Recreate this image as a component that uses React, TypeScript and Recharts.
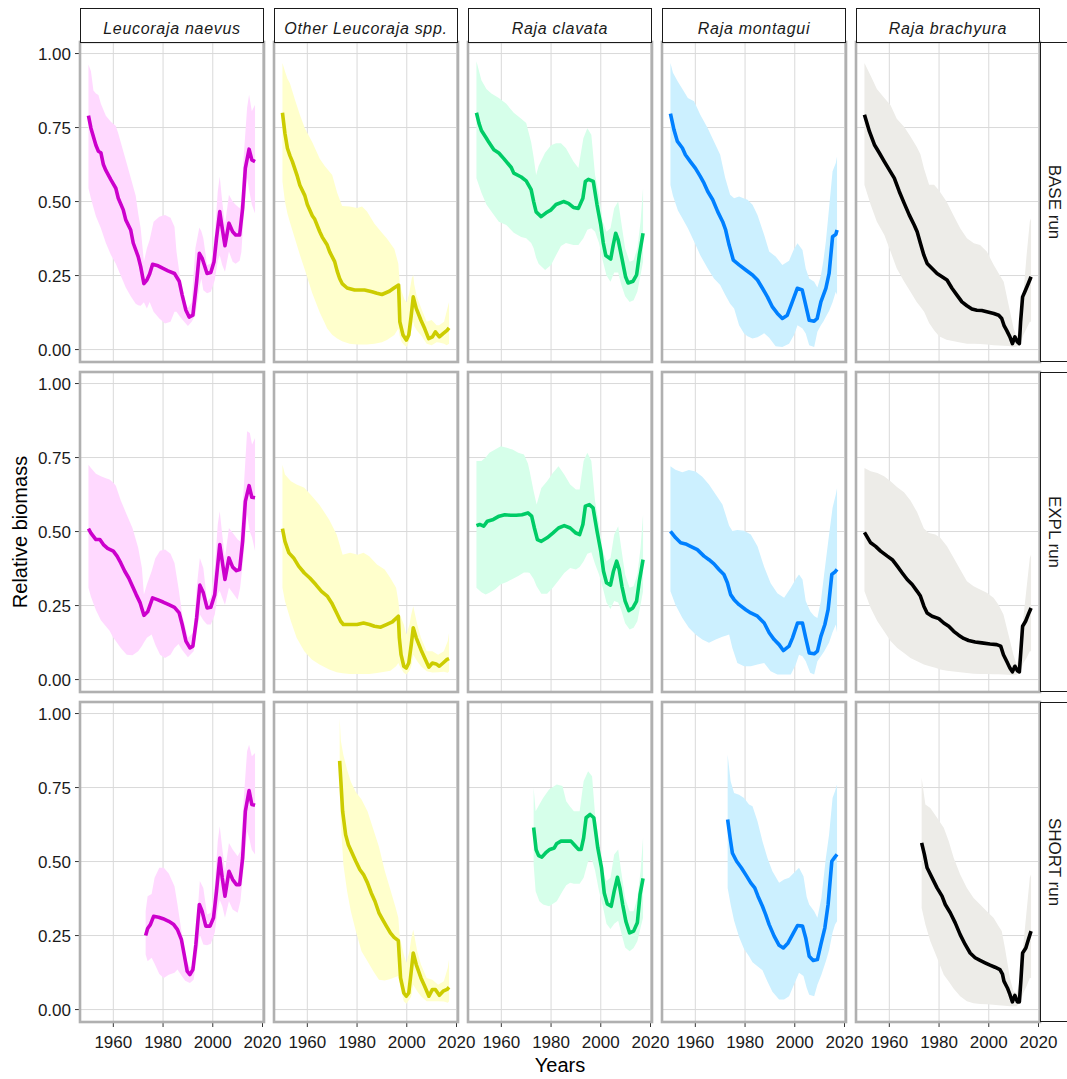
import React from 'react';
import { ComposedChart, Line, Area, XAxis, YAxis, CartesianGrid } from 'recharts';

type Pt = [number, number];
type Band = [number, number, number];

const FONT = '"Liberation Sans", Arial, Helvetica, sans-serif';

const species = ['Leucoraja naevus', 'Other Leucoraja spp.', 'Raja clavata', 'Raja montagui', 'Raja brachyura'];
const runs = ['BASE run', 'EXPL run', 'SHORT run'];
const lineColors = ['#CC00CC', '#CCCC00', '#00CC66', '#0080FF', '#000000'];
const bandColors = ['#FFD9FF', '#FFFFCC', '#D6FFEA', '#CCF0FF', '#EDECE8'];
const xTicks = [1960, 1980, 2000, 2020];
const yTicks = [0, 0.25, 0.5, 0.75, 1];
const xDomain: [number, number] = [1946.6, 2020.6];
const yDomain: [number, number] = [-0.042, 1.039];

// ---------------- BASE run ----------------
const naevusBaseLine: Pt[] = [
  [1950, 0.79], [1951, 0.748], [1953, 0.69], [1954, 0.67], [1955, 0.665], [1956, 0.625], [1957, 0.605],
  [1959, 0.574], [1961, 0.545], [1962, 0.511], [1964, 0.472], [1965, 0.438], [1967, 0.404], [1968, 0.36],
  [1970, 0.314], [1971, 0.28], [1972.3, 0.223], [1973.5, 0.235], [1974.6, 0.255], [1975.8, 0.288], [1978, 0.283],
  [1980, 0.274], [1982, 0.266], [1984.6, 0.257], [1986.5, 0.231], [1987.7, 0.184], [1989.2, 0.133], [1990.5, 0.11],
  [1992, 0.116], [1993.5, 0.229], [1994.6, 0.325], [1995.8, 0.307], [1997.7, 0.257], [1999.2, 0.26], [2000.5, 0.297],
  [2001.5, 0.376], [2002.8, 0.466], [2003.8, 0.41], [2004.9, 0.351], [2006.5, 0.427], [2008, 0.398], [2009.2, 0.387],
  [2010.8, 0.387], [2012, 0.477], [2013.1, 0.613], [2014.6, 0.677], [2015.7, 0.641], [2017, 0.635],
];
const naevusBaseBand: Band[] = [
  [1950, 0.545, 0.963], [1951, 0.51, 0.94], [1952, 0.48, 0.875], [1953, 0.45, 0.865], [1954, 0.43, 0.86],
  [1955, 0.41, 0.83], [1957, 0.36, 0.79], [1959, 0.32, 0.77], [1961, 0.29, 0.755], [1962, 0.27, 0.73],
  [1964, 0.23, 0.67], [1965, 0.21, 0.64], [1967, 0.18, 0.58], [1969, 0.155, 0.52], [1970, 0.15, 0.46],
  [1971, 0.148, 0.41], [1972.3, 0.16, 0.297], [1973.5, 0.139, 0.342], [1974.6, 0.161, 0.37], [1976.2, 0.128, 0.432],
  [1978.5, 0.105, 0.449], [1980.8, 0.088, 0.455], [1983, 0.094, 0.445], [1984.6, 0.128, 0.415], [1985.4, 0.128, 0.331],
  [1986.9, 0.11, 0.24], [1988.5, 0.094, 0.161], [1990, 0.08, 0.14], [1991.5, 0.094, 0.16], [1993, 0.116, 0.342],
  [1994.6, 0.21, 0.412], [1995.4, 0.24, 0.4], [1996.2, 0.2, 0.376], [1997.7, 0.19, 0.286], [1999.2, 0.195, 0.29],
  [2000.8, 0.235, 0.387], [2002, 0.3, 0.534], [2002.8, 0.319, 0.585], [2003.8, 0.286, 0.5], [2004.9, 0.263, 0.421],
  [2006.5, 0.331, 0.523], [2008, 0.297, 0.5], [2009.2, 0.29, 0.489], [2010.8, 0.3, 0.477], [2011.5, 0.33, 0.5],
  [2012.3, 0.432, 0.635], [2013.8, 0.58, 0.816], [2014.6, 0.54, 0.861], [2015.7, 0.49, 0.805], [2017, 0.46, 0.827],
];

const otherBaseLine: Pt[] = [
  [1950, 0.8], [1951, 0.73], [1952, 0.68], [1953, 0.655], [1954, 0.635], [1956, 0.585], [1957, 0.555],
  [1959, 0.52], [1960, 0.49], [1962, 0.452], [1963, 0.44], [1965, 0.398], [1966, 0.38], [1968, 0.353],
  [1969, 0.33], [1971, 0.297], [1972, 0.265], [1973, 0.24], [1974, 0.223], [1976, 0.208], [1979, 0.201],
  [1983, 0.201], [1986, 0.195], [1988, 0.19], [1990, 0.186], [1993, 0.197], [1995, 0.209], [1996.7, 0.218],
  [1997.2, 0.094], [1998.5, 0.049], [1999.8, 0.032], [2000.8, 0.049], [2001.8, 0.116], [2002.6, 0.178],
  [2003.8, 0.139], [2005.7, 0.099], [2007.2, 0.071], [2008.8, 0.037], [2010.3, 0.043], [2011.5, 0.06],
  [2013.1, 0.043], [2014.6, 0.054], [2016.2, 0.065], [2017, 0.073],
];
const otherBaseBand: Band[] = [
  [1950, 0.568, 0.968], [1951, 0.5, 0.94], [1952, 0.46, 0.915], [1953, 0.43, 0.9], [1955, 0.375, 0.845],
  [1957, 0.32, 0.793], [1959, 0.27, 0.748], [1962, 0.19, 0.7], [1965, 0.125, 0.645], [1967, 0.09, 0.62],
  [1968, 0.071, 0.61], [1970, 0.05, 0.59], [1972, 0.037, 0.53], [1974, 0.028, 0.485], [1977, 0.02, 0.483],
  [1980, 0.017, 0.478], [1982, 0.017, 0.483], [1984, 0.017, 0.466], [1987, 0.02, 0.425], [1990, 0.025, 0.395],
  [1992, 0.032, 0.375], [1995, 0.049, 0.34], [1996.6, 0.071, 0.29], [1997.2, 0.045, 0.22], [1998, 0.025, 0.195],
  [1999, 0.015, 0.17], [2000, 0.009, 0.16], [2001, 0.03, 0.19], [2002, 0.07, 0.24], [2002.6, 0.094, 0.252],
  [2003, 0.08, 0.22], [2004, 0.065, 0.18], [2006, 0.045, 0.135], [2008, 0.02, 0.094], [2010, 0.015, 0.1],
  [2012, 0.025, 0.082], [2013, 0.024, 0.082], [2015, 0.02, 0.094], [2016, 0.015, 0.128], [2017, 0.02, 0.161],
];

const clavataBaseLine: Pt[] = [
  [1950, 0.8], [1951, 0.765], [1952, 0.74], [1954, 0.714], [1955, 0.7], [1957, 0.675], [1959, 0.664],
  [1961, 0.645], [1964, 0.615], [1965, 0.596], [1968, 0.583], [1970, 0.57], [1972, 0.54], [1973, 0.5],
  [1974, 0.465], [1976, 0.449], [1978, 0.462], [1980, 0.472], [1982, 0.49], [1985, 0.5], [1987, 0.494],
  [1989, 0.48], [1991, 0.477], [1992.8, 0.511], [1993.8, 0.568], [1995, 0.575], [1997, 0.568], [1998.5, 0.489],
  [2000, 0.421], [2001, 0.36], [2002, 0.318], [2004, 0.306], [2005, 0.353], [2006, 0.393], [2007, 0.37],
  [2008.5, 0.308], [2010, 0.245], [2011, 0.225], [2013, 0.231], [2014.4, 0.252], [2015.5, 0.319], [2017, 0.393],
];
const clavataBaseBand: Band[] = [
  [1950, 0.579, 0.974], [1952, 0.53, 0.91], [1954, 0.49, 0.88], [1956, 0.466, 0.865], [1959, 0.432, 0.85],
  [1962, 0.421, 0.83], [1965, 0.395, 0.8], [1968, 0.38, 0.78], [1970, 0.376, 0.765], [1972, 0.36, 0.7],
  [1973, 0.342, 0.65], [1974, 0.31, 0.59], [1975, 0.29, 0.62], [1977.6, 0.269, 0.665], [1980, 0.286, 0.69],
  [1982, 0.319, 0.697], [1984, 0.35, 0.697], [1986, 0.36, 0.68], [1989, 0.353, 0.635], [1991, 0.353, 0.613],
  [1993, 0.376, 0.714], [1994.6, 0.405, 0.748], [1996.2, 0.41, 0.726], [1997.7, 0.398, 0.59], [1999.3, 0.36, 0.523],
  [2000.8, 0.3, 0.432], [2002.3, 0.25, 0.398], [2003.9, 0.229, 0.41], [2005.4, 0.26, 0.477], [2007, 0.26, 0.5],
  [2008.2, 0.22, 0.432], [2009.8, 0.18, 0.342], [2011.6, 0.161, 0.297], [2013.2, 0.167, 0.302], [2014.7, 0.195, 0.342],
  [2016, 0.252, 0.432], [2017, 0.297, 0.545],
];

const montaguiBaseLine: Pt[] = [
  [1950, 0.797], [1951.4, 0.743], [1952.8, 0.703], [1954.8, 0.681], [1956, 0.658], [1958, 0.635], [1960, 0.613],
  [1962, 0.585], [1963.5, 0.562], [1965, 0.534], [1967, 0.506], [1969, 0.466], [1971, 0.432], [1972.2, 0.404],
  [1973.6, 0.353], [1975.3, 0.302], [1977.6, 0.286], [1980.3, 0.269], [1983, 0.252], [1985, 0.235], [1987, 0.207],
  [1989, 0.178], [1991, 0.144], [1993, 0.122], [1995, 0.105], [1997, 0.116], [1999, 0.161], [2001, 0.207],
  [2003, 0.201], [2004.4, 0.15], [2005.8, 0.099], [2007.8, 0.096], [2009, 0.105], [2010.5, 0.161], [2012.5, 0.207],
  [2013.8, 0.257], [2015.2, 0.381], [2016.5, 0.389], [2017, 0.404],
];
const montaguiBaseBand: Band[] = [
  [1950, 0.556, 0.968], [1951, 0.52, 0.935], [1953, 0.47, 0.905], [1955, 0.44, 0.878], [1957, 0.41, 0.85],
  [1959.5, 0.365, 0.839], [1962, 0.319, 0.793], [1965, 0.274, 0.748], [1967.5, 0.24, 0.703], [1970, 0.218, 0.658],
  [1972, 0.185, 0.58], [1974, 0.155, 0.523], [1975.6, 0.139, 0.511], [1977.6, 0.082, 0.517], [1979.6, 0.054, 0.51],
  [1981, 0.045, 0.506], [1983, 0.037, 0.489], [1985, 0.042, 0.455], [1987.7, 0.055, 0.387], [1989.7, 0.04, 0.331],
  [1992.3, 0.011, 0.314], [1995, 0.009, 0.286], [1997.7, 0.02, 0.3], [1999.7, 0.049, 0.34], [2001.1, 0.082, 0.359],
  [2003.1, 0.071, 0.336], [2004.4, 0.054, 0.274], [2005.8, 0.015, 0.24], [2007.8, 0.009, 0.229], [2009.1, 0.06, 0.21],
  [2010.5, 0.082, 0.25], [2011.5, 0.095, 0.3], [2012.5, 0.111, 0.365], [2013.8, 0.13, 0.479], [2015.2, 0.16, 0.602],
  [2016.5, 0.195, 0.63], [2017, 0.184, 0.652],
];

const brachyuraBaseLine: Pt[] = [
  [1950, 0.793], [1952, 0.737], [1954, 0.692], [1956, 0.664], [1958, 0.635], [1960, 0.607], [1962, 0.579],
  [1964, 0.534], [1966, 0.494], [1968, 0.455], [1970, 0.421], [1971.2, 0.398], [1972.5, 0.359], [1973.9, 0.319],
  [1975.2, 0.291], [1977.2, 0.274], [1979.2, 0.257], [1981.2, 0.246], [1983.2, 0.235], [1985.2, 0.207],
  [1987.2, 0.184], [1989.2, 0.161], [1991.2, 0.148], [1993.2, 0.137], [1995.2, 0.133], [1997.2, 0.132],
  [1999.2, 0.128], [2002, 0.122], [2004, 0.116], [2005.2, 0.105], [2006.1, 0.082], [2007.2, 0.065], [2008.5, 0.043],
  [2009.5, 0.02], [2010.5, 0.043], [2011.5, 0.026], [2012.3, 0.02], [2012.8, 0.094], [2013.6, 0.178], [2014.5, 0.195],
  [2015.9, 0.223], [2017, 0.246],
];
const brachyuraBaseBand: Band[] = [
  [1950, 0.556, 0.968], [1952.5, 0.489, 0.925], [1955, 0.432, 0.88], [1958, 0.387, 0.85], [1960.5, 0.331, 0.825],
  [1963, 0.274, 0.78], [1966, 0.229, 0.752], [1968.5, 0.195, 0.72], [1971, 0.161, 0.685], [1972.5, 0.145, 0.66],
  [1974, 0.128, 0.61], [1976, 0.09, 0.557], [1978, 0.065, 0.557], [1980, 0.045, 0.537], [1983, 0.033, 0.5],
  [1986, 0.028, 0.45], [1988.5, 0.024, 0.41], [1991.2, 0.02, 0.376], [1994, 0.02, 0.359], [1996.5, 0.019, 0.353],
  [1999.2, 0.017, 0.331], [2002, 0.015, 0.286], [2004, 0.014, 0.257], [2006, 0.013, 0.229], [2008, 0.012, 0.15],
  [2010, 0.009, 0.071], [2011.2, 0.01, 0.043], [2012.5, 0.015, 0.071], [2013.9, 0.049, 0.184], [2015.2, 0.071, 0.319],
  [2016.5, 0.094, 0.432], [2017, 0.094, 0.444],
];

// ---------------- EXPL run ----------------
const naevusExplLine: Pt[] = [
  [1950, 0.51], [1951, 0.495], [1953, 0.473], [1954.6, 0.473], [1956, 0.456], [1957.7, 0.443], [1960, 0.434],
  [1961.5, 0.417], [1963, 0.394], [1964.6, 0.366], [1966.2, 0.343], [1967.7, 0.315], [1969.2, 0.287], [1970.8, 0.259],
  [1972.3, 0.217], [1973.8, 0.229], [1975.8, 0.276], [1977.7, 0.27], [1980, 0.262], [1982.3, 0.253], [1984.6, 0.244],
  [1986.5, 0.225], [1987.7, 0.186], [1989.2, 0.13], [1990.8, 0.107], [1992, 0.113], [1993.5, 0.208], [1994.8, 0.319],
  [1996.2, 0.293], [1997.7, 0.242], [1999.2, 0.244], [2000.8, 0.287], [2002.8, 0.456], [2003.8, 0.4], [2004.9, 0.338],
  [2006.5, 0.411], [2008, 0.38], [2009.5, 0.368], [2010.8, 0.372], [2012, 0.467], [2013.1, 0.602], [2014.6, 0.655],
  [2015.7, 0.616], [2017, 0.614],
];
const naevusExplBand: Band[] = [
  [1950, 0.31, 0.726], [1951, 0.28, 0.715], [1953, 0.235, 0.695], [1955, 0.2, 0.687], [1957, 0.18, 0.68],
  [1958.5, 0.165, 0.676], [1960, 0.141, 0.665], [1961, 0.13, 0.655], [1963, 0.107, 0.605], [1965.4, 0.084, 0.557],
  [1967.7, 0.082, 0.512], [1970, 0.096, 0.445], [1971.5, 0.113, 0.377], [1972.3, 0.125, 0.287], [1973.5, 0.141, 0.321],
  [1975.4, 0.152, 0.366], [1976.9, 0.118, 0.41], [1978.8, 0.084, 0.435], [1980.8, 0.073, 0.439], [1983, 0.084, 0.425],
  [1984.6, 0.107, 0.394], [1986.2, 0.12, 0.31], [1987.7, 0.1, 0.22], [1990, 0.075, 0.141], [1992.3, 0.096, 0.16],
  [1993.5, 0.16, 0.31], [1994.8, 0.22, 0.411], [1996.2, 0.2, 0.377], [1997.7, 0.186, 0.265], [1999.2, 0.186, 0.276],
  [2000.8, 0.22, 0.377], [2002, 0.29, 0.524], [2002.8, 0.3, 0.569], [2003.8, 0.276, 0.49], [2004.9, 0.253, 0.411],
  [2006.5, 0.31, 0.512], [2008.5, 0.287, 0.49], [2010, 0.27, 0.473], [2011, 0.31, 0.467], [2012.3, 0.411, 0.625],
  [2013.8, 0.557, 0.839], [2014.9, 0.5, 0.833], [2015.8, 0.48, 0.794], [2017, 0.434, 0.816],
];

const otherExplLine: Pt[] = [
  [1950, 0.51], [1951, 0.467], [1952.6, 0.428], [1954.5, 0.411], [1956.5, 0.383], [1958.8, 0.36], [1961, 0.343],
  [1963.4, 0.321], [1965.7, 0.298], [1968, 0.282], [1969.8, 0.259], [1971.8, 0.225], [1973.4, 0.197], [1974.5, 0.186],
  [1977, 0.186], [1980, 0.186], [1982.6, 0.191], [1985, 0.186], [1987, 0.18], [1989.5, 0.177], [1991.8, 0.186],
  [1994.2, 0.195], [1996.6, 0.214], [1997, 0.141], [1997.7, 0.084], [1998.8, 0.045], [1999.8, 0.039], [2000.8, 0.056],
  [2001.8, 0.118], [2002.6, 0.175], [2003.8, 0.141], [2005.7, 0.101], [2007.2, 0.073], [2008.9, 0.042], [2010.3, 0.056],
  [2011.8, 0.053], [2013.1, 0.045], [2014.6, 0.056], [2016.2, 0.068], [2017, 0.071],
];
const otherExplBand: Band[] = [
  [1950, 0.31, 0.726], [1951, 0.265, 0.693], [1953.4, 0.197, 0.67], [1955.7, 0.141, 0.659], [1958.8, 0.096, 0.648],
  [1961.8, 0.068, 0.62], [1964.9, 0.051, 0.59], [1968.8, 0.034, 0.54], [1971.8, 0.025, 0.49], [1974.2, 0.021, 0.422],
  [1977.2, 0.019, 0.428], [1980.3, 0.019, 0.422], [1982.6, 0.019, 0.428], [1984.9, 0.019, 0.417], [1988, 0.022, 0.389],
  [1991.1, 0.026, 0.372], [1993.4, 0.03, 0.343], [1995.7, 0.045, 0.31], [1996.6, 0.056, 0.265], [1997.2, 0.045, 0.22],
  [1998.8, 0.023, 0.186], [1999.8, 0.017, 0.152], [2001.1, 0.03, 0.186], [2001.8, 0.045, 0.22], [2002.6, 0.084, 0.248],
  [2004.2, 0.062, 0.186], [2005.7, 0.045, 0.141], [2008, 0.028, 0.096], [2010.3, 0.024, 0.096], [2012.6, 0.025, 0.084],
  [2014.9, 0.026, 0.096], [2016.5, 0.023, 0.13], [2017, 0.028, 0.158],
];

const clavataExplLine: Pt[] = [
  [1950, 0.52], [1951.3, 0.524], [1952.9, 0.518], [1954.4, 0.535], [1956.8, 0.541], [1959.1, 0.552], [1961.4, 0.557],
  [1963.7, 0.555], [1966, 0.555], [1968.3, 0.557], [1970.7, 0.563], [1972.2, 0.552], [1973.3, 0.512], [1974.5, 0.473],
  [1976.1, 0.467], [1978.4, 0.479], [1980.7, 0.495], [1983, 0.512], [1985.3, 0.52], [1987.7, 0.512], [1990, 0.495],
  [1991.5, 0.49], [1992.8, 0.524], [1993.8, 0.586], [1995.4, 0.591], [1996.9, 0.58], [1998.5, 0.501], [2000, 0.434],
  [2001.1, 0.366], [2002.3, 0.327], [2003.9, 0.319], [2005.1, 0.366], [2006.4, 0.4], [2007.4, 0.372], [2008.5, 0.315],
  [2009.8, 0.265], [2011.3, 0.233], [2012.9, 0.242], [2014.4, 0.265], [2015.5, 0.332], [2017, 0.405],
];
const clavataExplBand: Band[] = [
  [1950, 0.31, 0.738], [1952, 0.295, 0.738], [1953.7, 0.287, 0.75], [1955.2, 0.293, 0.766], [1957.5, 0.305, 0.777],
  [1959.8, 0.322, 0.788], [1962.2, 0.33, 0.783], [1964.5, 0.34, 0.777], [1966.8, 0.35, 0.766], [1969.1, 0.362, 0.76],
  [1970.7, 0.362, 0.73], [1971.4, 0.36, 0.704], [1973, 0.34, 0.636], [1974.2, 0.315, 0.591], [1976.1, 0.29, 0.647],
  [1978.4, 0.29, 0.67], [1980.7, 0.31, 0.698], [1983, 0.335, 0.721], [1985.3, 0.36, 0.693], [1987.7, 0.377, 0.659],
  [1990, 0.372, 0.642], [1991.5, 0.38, 0.642], [1993.1, 0.4, 0.738], [1994.6, 0.425, 0.766], [1996.2, 0.43, 0.738],
  [1997.7, 0.39, 0.602], [1999.3, 0.355, 0.524], [2000.8, 0.31, 0.434], [2002.3, 0.26, 0.4], [2003.9, 0.238, 0.411],
  [2005.4, 0.265, 0.49], [2007, 0.26, 0.518], [2008.2, 0.235, 0.445], [2009.8, 0.19, 0.355], [2011.6, 0.169, 0.31],
  [2013.2, 0.175, 0.315], [2014.7, 0.197, 0.355], [2016, 0.253, 0.445], [2017, 0.298, 0.557],
];

const montaguiExplLine: Pt[] = [
  [1950, 0.501], [1952.1, 0.479], [1954.1, 0.462], [1956.1, 0.458], [1958.1, 0.45], [1960.8, 0.439], [1963.5, 0.417],
  [1965.5, 0.405], [1967.5, 0.391], [1969.5, 0.372], [1971.5, 0.355], [1972.9, 0.327], [1974.2, 0.287], [1975.6, 0.27],
  [1977.6, 0.253], [1980.3, 0.236], [1982.3, 0.225], [1985, 0.214], [1987.7, 0.191], [1989.7, 0.158], [1991.7, 0.135],
  [1993.7, 0.118], [1995.4, 0.098], [1997.7, 0.113], [1999.1, 0.141], [2001.1, 0.191], [2003.1, 0.191], [2004.4, 0.141],
  [2005.8, 0.09], [2007.8, 0.087], [2009.1, 0.096], [2010.5, 0.146], [2012.1, 0.186], [2013.4, 0.236], [2014.9, 0.355],
  [2016.2, 0.364], [2017, 0.372],
];
const montaguiExplBand: Band[] = [
  [1950, 0.298, 0.721], [1952, 0.253, 0.709], [1954.8, 0.208, 0.7], [1957.4, 0.175, 0.708], [1960.1, 0.152, 0.703],
  [1962.8, 0.135, 0.685], [1965.5, 0.124, 0.659], [1968.2, 0.135, 0.625], [1970.9, 0.145, 0.591], [1972.2, 0.148, 0.557],
  [1973.6, 0.152, 0.52], [1974.9, 0.107, 0.502], [1976.9, 0.056, 0.505], [1979.6, 0.045, 0.503], [1982.3, 0.045, 0.49],
  [1985, 0.051, 0.45], [1987.7, 0.056, 0.38], [1990.3, 0.028, 0.325], [1993, 0.017, 0.292], [1995.7, 0.017, 0.276],
  [1998.4, 0.017, 0.31], [2000.4, 0.051, 0.34], [2001.7, 0.084, 0.355], [2003.1, 0.079, 0.338], [2004.4, 0.062, 0.265],
  [2006.2, 0.023, 0.231], [2007.8, 0.017, 0.215], [2009.1, 0.062, 0.208], [2010.5, 0.079, 0.265], [2011.8, 0.095, 0.355],
  [2013.8, 0.125, 0.49], [2015.2, 0.16, 0.58], [2016.5, 0.186, 0.625], [2017, 0.158, 0.647],
];

const brachyuraExplLine: Pt[] = [
  [1950, 0.497], [1952.5, 0.462], [1954.5, 0.45], [1956.5, 0.434], [1959.2, 0.417], [1961.2, 0.405], [1963.2, 0.383],
  [1965.2, 0.36], [1967.2, 0.338], [1969.2, 0.321], [1971.2, 0.298], [1972.5, 0.282], [1973.9, 0.248], [1975.2, 0.225],
  [1977.2, 0.214], [1979.9, 0.206], [1981.9, 0.191], [1983.9, 0.18], [1985.9, 0.163], [1987.9, 0.15], [1989.9, 0.139],
  [1991.9, 0.132], [1994.5, 0.127], [1997.2, 0.124], [2000.5, 0.12], [2003.2, 0.118], [2004.8, 0.113], [2005.9, 0.084],
  [2007.2, 0.062], [2008.5, 0.039], [2009.5, 0.026], [2010.5, 0.045], [2011.5, 0.03], [2012.3, 0.026], [2012.9, 0.096],
  [2013.6, 0.18], [2014.8, 0.197], [2015.9, 0.22], [2017, 0.242],
];
const brachyuraExplBand: Band[] = [
  [1950, 0.298, 0.715], [1952.5, 0.242, 0.704], [1955.2, 0.197, 0.698], [1957.9, 0.163, 0.687], [1960.5, 0.13, 0.67],
  [1963.2, 0.107, 0.65], [1965.9, 0.09, 0.633], [1968.5, 0.073, 0.605], [1971.2, 0.062, 0.565], [1973.9, 0.051, 0.51],
  [1975.9, 0.046, 0.495], [1978.5, 0.04, 0.49], [1980.5, 0.034, 0.479], [1983.2, 0.03, 0.45], [1985.9, 0.027, 0.411],
  [1988.5, 0.025, 0.372], [1991.2, 0.022, 0.332], [1993.9, 0.02, 0.315], [1996.5, 0.019, 0.304], [1999.2, 0.019, 0.293],
  [2001.9, 0.018, 0.276], [2003.9, 0.018, 0.253], [2005.9, 0.017, 0.22], [2007.9, 0.016, 0.152], [2009.9, 0.015, 0.084],
  [2011.2, 0.016, 0.051], [2012.5, 0.023, 0.084], [2013.9, 0.056, 0.208], [2015.2, 0.073, 0.31], [2016.5, 0.096, 0.411],
  [2017, 0.096, 0.422],
];

// ---------------- SHORT run ----------------
const naevusShortLine: Pt[] = [
  [1973, 0.25], [1973.8, 0.274], [1974.9, 0.287], [1976.2, 0.315], [1978.2, 0.312], [1980, 0.307], [1982.3, 0.298],
  [1984.3, 0.287], [1985.8, 0.27], [1987.4, 0.236], [1988.5, 0.186], [1989.7, 0.13], [1990.8, 0.118], [1992, 0.135],
  [1993.2, 0.22], [1994.6, 0.355], [1995.7, 0.332], [1997.2, 0.282], [1998.9, 0.282], [2000.3, 0.31], [2001.5, 0.4],
  [2002.8, 0.512], [2003.8, 0.445], [2004.9, 0.383], [2006.5, 0.467], [2008, 0.439], [2009.5, 0.422], [2010.8, 0.422],
  [2012, 0.512], [2013.1, 0.67], [2014.6, 0.74], [2015.7, 0.693], [2017, 0.69],
];
const naevusShortBand: Band[] = [
  [1973, 0.186, 0.332], [1973.8, 0.163, 0.383], [1975.4, 0.175, 0.39], [1976.6, 0.155, 0.445], [1978.5, 0.12, 0.479],
  [1980.3, 0.107, 0.479], [1982.3, 0.118, 0.46], [1984.6, 0.124, 0.417], [1985.8, 0.135, 0.355], [1987.4, 0.115, 0.265],
  [1988.9, 0.097, 0.175], [1990.8, 0.09, 0.141], [1992.3, 0.101, 0.152], [1993.5, 0.175, 0.287], [1994.8, 0.253, 0.434],
  [1996.2, 0.22, 0.411], [1997.7, 0.217, 0.321], [1999.2, 0.222, 0.327], [2000.8, 0.26, 0.422], [2002, 0.34, 0.569],
  [2002.8, 0.37, 0.619], [2003.8, 0.35, 0.546], [2004.9, 0.31, 0.467], [2006.5, 0.366, 0.563], [2008, 0.338, 0.541],
  [2010, 0.327, 0.518], [2011.1, 0.366, 0.535], [2012.3, 0.467, 0.693], [2013.8, 0.602, 0.873], [2014.6, 0.58, 0.895],
  [2015.7, 0.54, 0.856], [2017, 0.524, 0.867],
];

const otherShortLine: Pt[] = [
  [1973, 0.84], [1973.5, 0.771], [1974.2, 0.67], [1975.4, 0.591], [1976.5, 0.557], [1978, 0.529], [1979.5, 0.501],
  [1981.1, 0.473], [1982.6, 0.456], [1984.2, 0.428], [1985.7, 0.394], [1987.2, 0.366], [1988.8, 0.327], [1990.3, 0.304],
  [1991.8, 0.282], [1993.4, 0.259], [1994.9, 0.244], [1996.6, 0.233], [1997, 0.175], [1997.5, 0.107], [1998.8, 0.056],
  [1999.8, 0.045], [2000.8, 0.056], [2001.8, 0.13], [2002.6, 0.191], [2003.8, 0.152], [2005.7, 0.107], [2007.2, 0.079],
  [2008.9, 0.045], [2010.3, 0.068], [2011.5, 0.068], [2013.1, 0.048], [2014.6, 0.062], [2016.2, 0.068], [2017, 0.075],
];
const otherShortBand: Band[] = [
  [1973, 0.738, 0.985], [1973.5, 0.625, 0.907], [1974.5, 0.49, 0.86], [1976, 0.4, 0.81], [1977.5, 0.332, 0.77],
  [1979.5, 0.265, 0.735], [1981.8, 0.197, 0.71], [1984.2, 0.163, 0.67], [1986.5, 0.13, 0.61], [1988.8, 0.101, 0.55],
  [1991.1, 0.098, 0.47], [1993.4, 0.103, 0.405], [1995.5, 0.11, 0.345], [1996.6, 0.113, 0.31], [1997.2, 0.084, 0.242],
  [1998.8, 0.028, 0.186], [1999.8, 0.02, 0.158], [2001.1, 0.035, 0.197], [2001.8, 0.045, 0.24], [2002.6, 0.084, 0.27],
  [2004.2, 0.062, 0.197], [2005.7, 0.045, 0.152], [2008, 0.028, 0.107], [2010.3, 0.028, 0.101], [2012.6, 0.028, 0.084],
  [2014.9, 0.027, 0.096], [2016.5, 0.023, 0.141], [2017, 0.028, 0.169],
];

const clavataShortLine: Pt[] = [
  [1973, 0.615], [1974, 0.54], [1975, 0.52], [1976.3, 0.515], [1977.8, 0.529], [1979.5, 0.541], [1981.3, 0.546],
  [1982.2, 0.56], [1984, 0.569], [1988, 0.569], [1989.5, 0.555], [1991, 0.541], [1992.1, 0.541], [1993.1, 0.58],
  [1994.1, 0.648], [1995.7, 0.659], [1997.2, 0.648], [1998.8, 0.546], [2000.3, 0.479], [2001.4, 0.394], [2002.6, 0.357],
  [2004.2, 0.349], [2005.4, 0.4], [2006.7, 0.447], [2007.7, 0.411], [2008.8, 0.355], [2010.1, 0.298], [2011.6, 0.259],
  [2013.2, 0.265], [2014.7, 0.293], [2015.8, 0.389], [2017, 0.443],
];
const clavataShortBand: Band[] = [
  [1973, 0.49, 0.749], [1973.8, 0.4, 0.67], [1975.3, 0.366, 0.693], [1976.8, 0.355, 0.715], [1979.2, 0.349, 0.743],
  [1982.3, 0.366, 0.76], [1984.6, 0.4, 0.755], [1986.1, 0.42, 0.704], [1987.7, 0.428, 0.685], [1989.2, 0.425, 0.67],
  [1991.5, 0.425, 0.67], [1993.1, 0.445, 0.771], [1994.9, 0.5, 0.805], [1996.5, 0.505, 0.788], [1997.7, 0.47, 0.659],
  [1999.3, 0.4, 0.569], [2000.8, 0.35, 0.467], [2002.3, 0.29, 0.434], [2003.9, 0.272, 0.445], [2005.4, 0.29, 0.524],
  [2007, 0.3, 0.541], [2008.2, 0.26, 0.467], [2009.8, 0.21, 0.377], [2011.6, 0.197, 0.332], [2013.2, 0.208, 0.332],
  [2014.7, 0.231, 0.377], [2016, 0.276, 0.467], [2017, 0.31, 0.58],
];

const montaguiShortLine: Pt[] = [
  [1973, 0.642], [1974, 0.58], [1974.9, 0.529], [1976.6, 0.501], [1978.5, 0.479], [1980.7, 0.45], [1982.3, 0.428],
  [1983.9, 0.411], [1985.2, 0.383], [1987, 0.349], [1988.3, 0.321], [1989.7, 0.287], [1991.7, 0.248], [1993.7, 0.217],
  [1995.4, 0.208], [1997.3, 0.225], [1999.1, 0.253], [2001.1, 0.284], [2003.1, 0.282], [2004.4, 0.242], [2005.8, 0.18],
  [2007.4, 0.166], [2009.1, 0.169], [2010.5, 0.22], [2012.1, 0.276], [2013.4, 0.355], [2014.9, 0.501], [2016.2, 0.516],
  [2017, 0.524],
];
const montaguiShortBand: Band[] = [
  [1973, 0.411, 0.861], [1974.2, 0.355, 0.771], [1975.6, 0.3, 0.732], [1977.6, 0.245, 0.726], [1979.6, 0.205, 0.715],
  [1981.6, 0.18, 0.693], [1983, 0.16, 0.687], [1985, 0.146, 0.636], [1987, 0.133, 0.569], [1989, 0.095, 0.512],
  [1991, 0.06, 0.467], [1993.7, 0.034, 0.428], [1995.7, 0.034, 0.439], [1997.7, 0.045, 0.445], [1999.7, 0.085, 0.462],
  [2001.7, 0.124, 0.479], [2003.5, 0.113, 0.45], [2004.8, 0.073, 0.38], [2005.8, 0.05, 0.355], [2007.8, 0.045, 0.332],
  [2009.1, 0.084, 0.31], [2010.7, 0.118, 0.377], [2012.5, 0.163, 0.512], [2013.8, 0.2, 0.591], [2015.2, 0.26, 0.715],
  [2016.2, 0.287, 0.738], [2017, 0.298, 0.76],
];

const brachyuraShortLine: Pt[] = [
  [1973, 0.563], [1974.1, 0.524], [1975.2, 0.479], [1977.2, 0.445], [1979.2, 0.411], [1981.2, 0.383], [1982.5, 0.355],
  [1984.5, 0.327], [1986.5, 0.293], [1988.5, 0.253], [1990.5, 0.22], [1992.5, 0.191], [1994.5, 0.175], [1996.5, 0.166],
  [1998.5, 0.158], [2000.5, 0.15], [2002.5, 0.143], [2004.5, 0.135], [2005.5, 0.12], [2006.1, 0.096], [2007.5, 0.073],
  [2008.5, 0.051], [2009.5, 0.026], [2010.5, 0.048], [2011.5, 0.026], [2012.3, 0.026], [2012.9, 0.096], [2013.6, 0.191],
  [2014.9, 0.208], [2015.9, 0.236], [2017, 0.265],
];
const brachyuraShortBand: Band[] = [
  [1973, 0.343, 0.783], [1974.5, 0.287, 0.693], [1976.5, 0.231, 0.681], [1979.2, 0.175, 0.648], [1981.9, 0.118, 0.614],
  [1983.9, 0.095, 0.569], [1985.9, 0.07, 0.512], [1988.5, 0.045, 0.456], [1991.2, 0.028, 0.411], [1993.9, 0.021, 0.377],
  [1996.5, 0.019, 0.355], [1999.2, 0.018, 0.332], [2001.9, 0.016, 0.31], [2003.9, 0.015, 0.282], [2005.2, 0.014, 0.265],
  [2006.5, 0.013, 0.208], [2008.5, 0.011, 0.107], [2009.9, 0.011, 0.062], [2011.2, 0.011, 0.056], [2012.5, 0.023, 0.096],
  [2013.9, 0.056, 0.22], [2015.2, 0.079, 0.332], [2016.5, 0.107, 0.445], [2017, 0.107, 0.456],
];

const lines: Pt[][][] = [
  [naevusBaseLine, otherBaseLine, clavataBaseLine, montaguiBaseLine, brachyuraBaseLine],
  [naevusExplLine, otherExplLine, clavataExplLine, montaguiExplLine, brachyuraExplLine],
  [naevusShortLine, otherShortLine, clavataShortLine, montaguiShortLine, brachyuraShortLine],
];
const bands: Band[][][] = [
  [naevusBaseBand, otherBaseBand, clavataBaseBand, montaguiBaseBand, brachyuraBaseBand],
  [naevusExplBand, otherExplBand, clavataExplBand, montaguiExplBand, brachyuraExplBand],
  [naevusShortBand, otherShortBand, clavataShortBand, montaguiShortBand, brachyuraShortBand],
];

// facet geometry
const PANEL_W = 184;
const PANEL_H = 320;
const LEFT = 80;
const COL_STEP = 194;
const ROW_TOPS = [42, 372, 702];
const STRIP_TOP = 8;
const RIGHT_STRIP_X = 1040;

const tickText = { fontSize: 17, fill: '#1a1a1a', fontFamily: FONT };
// inner facets keep their ticks (so the grid is drawn) but show no labels
const NoTick = () => <g />;

function Panel({ row, col }: { row: number; col: number }) {
  const isLeft = col === 0;
  const isBottom = row === 2;
  const yAxisW = isLeft ? LEFT : 0;
  const xAxisH = isBottom ? 40 : 0;
  const lineData = lines[row][col].map(([year, v]) => ({ year, v }));
  const bandData = bands[row][col].map(([year, lo, hi]) => ({ year, range: [lo, hi] }));
  return (
    <div
      style={{
        position: 'absolute',
        left: isLeft ? 0 : LEFT + col * COL_STEP,
        top: ROW_TOPS[row],
      }}
    >
      <ComposedChart
        width={PANEL_W + yAxisW}
        height={PANEL_H + xAxisH}
        margin={{ top: 0, right: 0, bottom: 0, left: 0 }}
      >
        <CartesianGrid stroke="#d9d9d9" strokeWidth={1} />
        <XAxis
          type="number"
          dataKey="year"
          domain={xDomain}
          ticks={xTicks}
          interval={0}
          allowDataOverflow
          height={xAxisH}
          axisLine={false}
          tickLine={isBottom ? { stroke: '#333333', strokeWidth: 1 } : false}
          tick={isBottom ? tickText : NoTick}
          tickSize={5}
          tickMargin={9}
        />
        <YAxis
          type="number"
          domain={yDomain}
          ticks={yTicks}
          interval={0}
          allowDataOverflow
          width={yAxisW}
          axisLine={false}
          tickLine={isLeft ? { stroke: '#333333', strokeWidth: 1 } : false}
          tick={isLeft ? tickText : NoTick}
          tickSize={5}
          tickMargin={4}
          tickFormatter={(v: number) => v.toFixed(2)}
        />
        <Area
          data={bandData}
          dataKey="range"
          type="linear"
          stroke="none"
          fill={bandColors[col]}
          fillOpacity={1}
          isAnimationActive={false}
        />
        <Line
          data={lineData}
          dataKey="v"
          type="linear"
          stroke={lineColors[col]}
          strokeWidth={3.6}
          strokeLinejoin="round"
          dot={false}
          activeDot={false}
          isAnimationActive={false}
        />
      </ComposedChart>
    </div>
  );
}

function Frame() {
  return (
    <svg
      width={1067}
      height={1079}
      style={{ position: 'absolute', left: 0, top: 0, pointerEvents: 'none' }}
    >
      {ROW_TOPS.map((top, r) =>
        species.map((_, c) => (
          <rect
            key={`b${r}-${c}`}
            x={LEFT + c * COL_STEP}
            y={top}
            width={PANEL_W}
            height={PANEL_H}
            fill="none"
            stroke="#b0b0b0"
            strokeWidth={2.6}
          />
        ))
      )}
      {species.map((name, c) => (
        <g key={`s${c}`}>
          <rect
            x={LEFT + c * COL_STEP + 0.5}
            y={STRIP_TOP + 0.5}
            width={PANEL_W - 1}
            height={ROW_TOPS[0] - STRIP_TOP}
            fill="#ffffff"
            stroke="#1a1a1a"
            strokeWidth={1}
          />
          <text
            x={LEFT + c * COL_STEP + PANEL_W / 2}
            y={34.3}
            textAnchor="middle"
            fontFamily={FONT}
            fontStyle="italic"
            fontSize={16}
            letterSpacing={0.7}
            fill="#1a1a1a"
          >
            {name}
          </text>
        </g>
      ))}
      {runs.map((name, r) => (
        <g key={`r${r}`}>
          <rect
            x={RIGHT_STRIP_X + 0.5}
            y={ROW_TOPS[r] + 0.5}
            width={60}
            height={PANEL_H - 1}
            fill="#ffffff"
            stroke="#1a1a1a"
            strokeWidth={1}
          />
          <text
            x={1049}
            y={ROW_TOPS[r] + PANEL_H / 2}
            textAnchor="middle"
            fontFamily={FONT}
            fontSize={17}
            fill="#1a1a1a"
            transform={`rotate(90 1049 ${ROW_TOPS[r] + PANEL_H / 2})`}
          >
            {name}
          </text>
        </g>
      ))}
      <text
        x={27}
        y={532}
        textAnchor="middle"
        fontFamily={FONT}
        fontSize={20}
        fill="#000000"
        transform="rotate(-90 27 532)"
      >
        Relative biomass
      </text>
      <text x={560} y={1072} textAnchor="middle" fontFamily={FONT} fontSize={20} fill="#000000">
        Years
      </text>
    </svg>
  );
}

export default function App() {
  return (
    <div
      style={{
        position: 'absolute',
        left: 0,
        top: 0,
        width: 1067,
        height: 1079,
        background: '#ffffff',
        overflow: 'hidden',
        fontFamily: FONT,
      }}
    >
      <style>{'.recharts-surface{overflow:visible}.recharts-wrapper{overflow:visible}'}</style>
      {runs.map((_, r) => species.map((__, c) => <Panel key={`${r}-${c}`} row={r} col={c} />))}
      <Frame />
    </div>
  );
}
